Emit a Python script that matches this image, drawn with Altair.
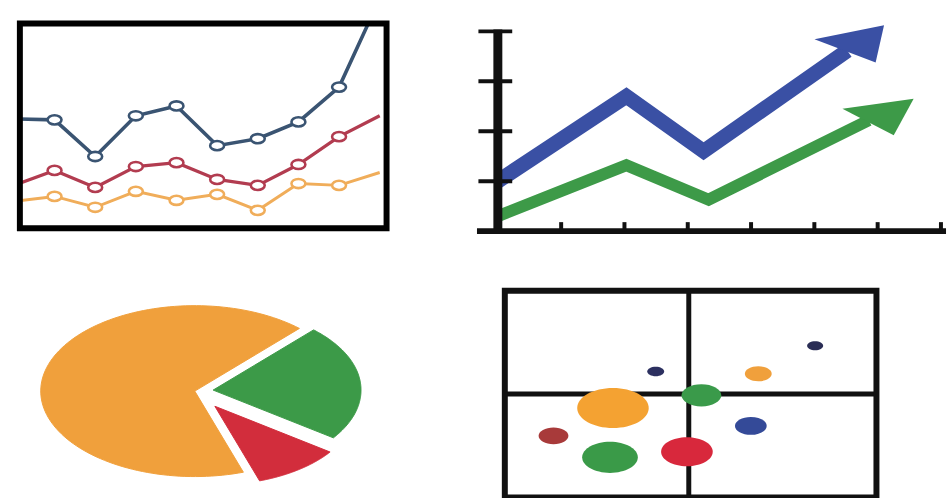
import altair as alt
import numpy as np
import pandas as pd

# ---------------- data ----------------
# Top-left: three series over ten periods (markers on the inner eight)
periods = list(range(10))
series_blue = [53.4, 52.9, 35.0, 54.9, 59.7, 40.3, 43.7, 51.9, 68.9, 112.1]
series_red = [20.9, 28.2, 19.9, 30.1, 32.0, 23.8, 20.9, 31.1, 44.7, 54.9]
series_orange = [13.1, 15.5, 10.2, 18.0, 13.6, 16.5, 8.7, 21.8, 20.9, 27.2]

# Top-right: two rising trend arrows (last point = base of the arrowhead)
trend_blue_x = [0.0, 2.03, 3.25, 5.52]
trend_blue_y = [1.0, 2.70, 1.60, 3.615]
trend_green_x = [0.0, 2.03, 3.33, 5.86]
trend_green_y = [0.30, 1.32, 0.63, 2.22]
y_ticks = [1, 2, 3, 4]
x_ticks = [1, 2, 3, 4, 5, 6, 7]

# Bottom-left: pie shares in percent
pie_labels = ["green", "orange", "red"]
pie_shares = [23, 67, 10]

# Bottom-right: bubble plot
bubble_group = ["navy_s", "navy_t", "orange_s", "green_m", "orange_b",
                "navy_r", "brown", "green_b", "red"]
bubble_x = [40.6, 83.5, 68.2, 52.9, 29.1, 66.2, 13.1, 28.3, 49.0]
bubble_y = [60.9, 73.4, 59.8, 49.4, 43.3, 34.6, 29.8, 19.4, 22.1]
bubble_size = [2.9, 2.6, 7.3, 16.0, 51.8, 10.2, 9.0, 31.4, 27.0]
quadrant_x = 49.5
quadrant_y = 50.0

# ---------------- panel: line chart ----------------
tl_x = alt.Scale(domain=[0.1467, 9.1687], nice=False, zero=False)
tl_y = alt.Scale(domain=[0, 100], nice=False, zero=False)

line_df = pd.DataFrame({
    "period": periods * 3,
    "value": series_blue + series_red + series_orange,
    "series": ["blue"] * 10 + ["red"] * 10 + ["orange"] * 10,
})
line_colors = alt.Scale(domain=["blue", "red", "orange"],
                        range=["#3a5472", "#b23c50", "#f0ad5a"])
line_widths = alt.Scale(domain=["blue", "red", "orange"], range=[3.6, 3.0, 2.5])
ellipse_open = "M-1,0A1,0.66,0,1,0,1,0A1,0.66,0,1,0,-1,0Z"

tl_lines = alt.Chart(line_df).mark_line(clip=True).encode(
    x=alt.X("period:Q", scale=tl_x, axis=None),
    y=alt.Y("value:Q", scale=tl_y, axis=None),
    color=alt.Color("series:N", scale=line_colors, legend=None),
    strokeWidth=alt.StrokeWidth("series:N", scale=line_widths, legend=None),
    detail="series:N",
)
tl_marks = alt.Chart(line_df).transform_filter(
    "datum.period >= 1 && datum.period <= 8"
).mark_point(shape=ellipse_open, size=196, filled=False, fill="white",
             fillOpacity=1, strokeWidth=2.6, opacity=1).encode(
    x=alt.X("period:Q", scale=tl_x, axis=None),
    y=alt.Y("value:Q", scale=tl_y, axis=None),
    stroke=alt.Stroke("series:N", scale=line_colors, legend=None),
)
tl_frame_df = pd.DataFrame({"x0": [tl_x.domain[0]], "x1": [tl_x.domain[1]],
                            "y0": [0], "y1": [100]})
tl_frame = alt.Chart(tl_frame_df).mark_rect(
    fillOpacity=0, stroke="black", strokeWidth=6).encode(
    x=alt.X("x0:Q", scale=tl_x, axis=None), x2="x1:Q",
    y=alt.Y("y0:Q", scale=tl_y, axis=None), y2="y1:Q",
)
top_left = alt.layer(tl_lines, tl_marks, tl_frame).properties(width=369, height=206)

# ---------------- panel: trend arrows ----------------
tr_x = alt.Scale(domain=[-0.3297, 7.080], nice=False, zero=False)
tr_y = alt.Scale(domain=[-0.1194, 4.159], nice=False, zero=False)

arrow_df = pd.DataFrame({
    "x": trend_blue_x + trend_green_x,
    "y": trend_blue_y + trend_green_y,
    "trend": ["blue"] * 4 + ["green"] * 4,
    "step": list(range(4)) * 2,
})
BLUE, GREEN = "#3a50a4", "#3d9a48"
# swept arrowheads, drawn tip-up and rotated along the last shaft segment
head_blue_path = "M0,-1.5L0.867,-0.557L-0.94,0.687Z"
head_green_path = "M0,-1.667L0.817,-0.537L-0.727,0.633Z"


def shaft(trend, color, width):
    return alt.Chart(arrow_df).transform_filter(f"datum.trend == '{trend}'").mark_line(
        strokeWidth=width, strokeJoin="miter", strokeCap="butt", color=color).encode(
        x=alt.X("x:Q", scale=tr_x, axis=None),
        y=alt.Y("y:Q", scale=tr_y, axis=None),
        order="step:Q",
    )


def head(trend, color, path, angle):
    return alt.Chart(arrow_df).transform_filter(
        f"datum.trend == '{trend}' && datum.step == 3").mark_point(
        shape=path, size=3600, filled=True, opacity=1, color=color, angle=angle).encode(
        x=alt.X("x:Q", scale=tr_x, axis=None),
        y=alt.Y("y:Q", scale=tr_y, axis=None),
    )


yaxis_df = pd.DataFrame({"x": [0], "y0": [tr_y.domain[0] + 0.06], "y1": [4.04]})
xaxis_df = pd.DataFrame({"y": [0], "x0": [tr_x.domain[0]], "x1": [tr_x.domain[1]]})
yaxis = alt.Chart(yaxis_df).mark_rule(color="#111111", strokeWidth=9).encode(
    x=alt.X("x:Q", scale=tr_x, axis=None),
    y=alt.Y("y0:Q", scale=tr_y, axis=None), y2="y1:Q",
)
xaxis = alt.Chart(xaxis_df).mark_rule(color="#111111", strokeWidth=6).encode(
    y=alt.Y("y:Q", scale=tr_y, axis=None),
    x=alt.X("x0:Q", scale=tr_x, axis=None), x2="x1:Q",
)
ytick_df = pd.DataFrame({"v": y_ticks, "x": [-0.04] * len(y_ticks)})
xtick_df = pd.DataFrame({"v": x_ticks, "y0": [0] * len(x_ticks),
                         "y1": [0.18] * len(x_ticks)})
yticks = alt.Chart(ytick_df).mark_tick(
    orient="horizontal", size=34, thickness=4, color="#111111", opacity=1).encode(
    x=alt.X("x:Q", scale=tr_x, axis=None),
    y=alt.Y("v:Q", scale=tr_y, axis=None),
)
xticks = alt.Chart(xtick_df).mark_rule(color="#111111", strokeWidth=4).encode(
    x=alt.X("v:Q", scale=tr_x, axis=None),
    y=alt.Y("y0:Q", scale=tr_y, axis=None), y2="y1:Q",
)
top_right = alt.layer(
    shaft("green", GREEN, 12), head("green", GREEN, head_green_path, 64.5),
    shaft("blue", BLUE, 15), head("blue", BLUE, head_blue_path, 55.3),
    yaxis, xaxis, yticks, xticks,
).properties(width=472, height=215)

# ---------------- panel: pie ----------------
bl_x = alt.Scale(domain=[-1.1355, 1.2452], nice=False, zero=False)
bl_y = alt.Scale(domain=[-1.2558, 1.1744], nice=False, zero=False)

start_angle = -35.6
explode = {"green": 0.12, "orange": 0.0, "red": 0.22}
radius = {"green": 0.96, "orange": 1.0, "red": 0.92}
slice_colors = {"green": "#3c9a48", "orange": "#f0a03c", "red": "#d22d3c"}

pie_rows = []
acc = start_angle
for label, share in zip(pie_labels, pie_shares):
    a0, a1 = acc, acc + share / 100 * 360
    acc = a1
    mid = np.radians((a0 + a1) / 2)
    ox, oy = explode[label] * np.cos(mid), explode[label] * np.sin(mid)
    r = radius[label]
    ts = np.radians(np.linspace(a0, a1, 121))
    pts = [(ox, oy)] + [(ox + r * np.cos(t), oy + r * np.sin(t)) for t in ts] + [(ox, oy)]
    for k, (px, py) in enumerate(pts):
        pie_rows.append({"slice": label, "k": k, "x": px, "y": py})
pie_df = pd.DataFrame(pie_rows)

pie_layers = []
for label in pie_labels:
    pie_layers.append(
        alt.Chart(pie_df).transform_filter(f"datum.slice == '{label}'").mark_line(
            fill=slice_colors[label], stroke=slice_colors[label], strokeWidth=1,
            strokeJoin="round").encode(
            x=alt.X("x:Q", scale=bl_x, axis=None),
            y=alt.Y("y:Q", scale=bl_y, axis=None),
            order="k:Q",
        )
    )
bottom_left = alt.layer(*pie_layers).properties(width=369, height=209)

# ---------------- panel: bubbles ----------------
br_x = alt.Scale(domain=[-7.49, 118.72], nice=False, zero=False)
br_y = alt.Scale(domain=[-0.48, 100], nice=False, zero=False)

bubble_df = pd.DataFrame({"group": bubble_group, "x": bubble_x, "y": bubble_y,
                          "size": bubble_size})
bubble_colors = alt.Scale(
    domain=bubble_group,
    range=["#2c3060", "#2a2d55", "#f0a03c", "#3a9a4a", "#f4a232",
           "#344a98", "#a83a3a", "#3a9a48", "#d8283c"])
ellipse = "M-1,0A1,0.56,0,1,0,1,0A1,0.56,0,1,0,-1,0Z"

bubbles = alt.Chart(bubble_df).mark_point(shape=ellipse, filled=True, opacity=1).encode(
    x=alt.X("x:Q", scale=br_x, axis=None),
    y=alt.Y("y:Q", scale=br_y, axis=None),
    size=alt.Size("size:Q", scale=alt.Scale(domain=[0, 100], range=[0, 10000]),
                  legend=None),
    color=alt.Color("group:N", scale=bubble_colors, legend=None),
)
br_frame_df = pd.DataFrame({"x0": [0], "x1": [100], "y0": [0], "y1": [100]})
br_frame = alt.Chart(br_frame_df).mark_rect(
    fillOpacity=0, stroke="#111111", strokeWidth=6).encode(
    x=alt.X("x0:Q", scale=br_x, axis=None), x2="x1:Q",
    y=alt.Y("y0:Q", scale=br_y, axis=None), y2="y1:Q",
)
vdiv_df = pd.DataFrame({"x": [quadrant_x], "y0": [0], "y1": [100]})
hdiv_df = pd.DataFrame({"y": [quadrant_y], "x0": [0], "x1": [100]})
vdiv = alt.Chart(vdiv_df).mark_rule(color="#111111", strokeWidth=5).encode(
    x=alt.X("x:Q", scale=br_x, axis=None),
    y=alt.Y("y0:Q", scale=br_y, axis=None), y2="y1:Q",
)
hdiv = alt.Chart(hdiv_df).mark_rule(color="#111111", strokeWidth=5).encode(
    y=alt.Y("y:Q", scale=br_y, axis=None),
    x=alt.X("x0:Q", scale=br_x, axis=None), x2="x1:Q",
)
bottom_right = alt.layer(vdiv, hdiv, bubbles, br_frame).properties(width=472, height=209)

# ---------------- assemble ----------------
chart = alt.concat(
    top_left, top_right, bottom_left, bottom_right,
    columns=2, spacing={"row": 54, "column": 91}, bounds="flush",
).resolve_scale(
    color="independent", stroke="independent", size="independent",
    strokeWidth="independent",
).properties(
    padding={"left": 17, "top": 19, "right": 0, "bottom": 0},
    background="white",
).configure_view(strokeWidth=0)

chart.save("out.html", embed_options={"renderer": "svg", "actions": False})
